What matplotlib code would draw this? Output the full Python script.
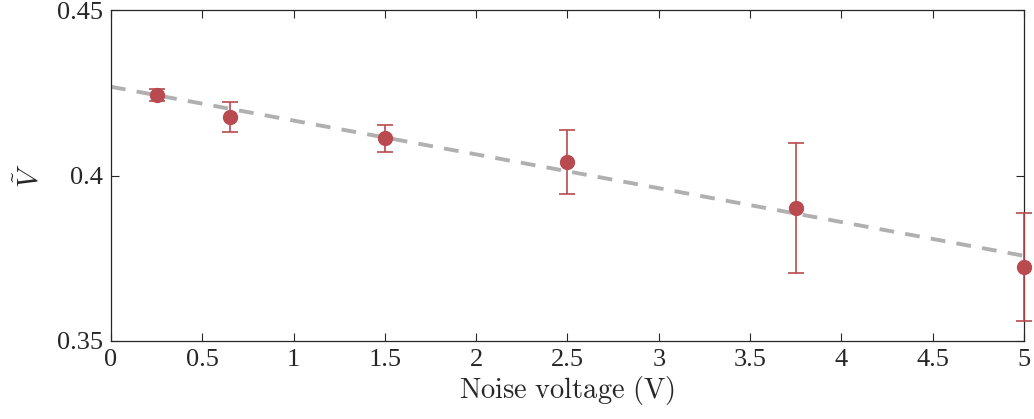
import numpy as np
import matplotlib.pyplot as plt

# measured visibility vs applied noise voltage
noise_v = [0.25, 0.65, 1.5, 2.5, 3.75, 5.0]
vis = [0.4244, 0.4178, 0.4113, 0.4040, 0.3903, 0.3724]
vis_err = [0.0018, 0.0045, 0.0041, 0.0097, 0.0197, 0.0164]

# linear fit
fit_x = [0, 5]
fit_y = [0.4269, 0.3757]

plt.rcParams['font.family'] = ['Liberation Serif', 'DejaVu Serif']
plt.rcParams['mathtext.fontset'] = 'cm'

fig = plt.figure(figsize=(10.34, 4.19), dpi=100)
ax = fig.add_axes([0.1073, 0.1869, 0.8830, 0.7881])

ax.plot(fit_x, fit_y, color='#b0b0b0', lw=2.8, linestyle=(0, (3.8, 2.9)), zorder=1)
ax.errorbar(noise_v, vis, yerr=vis_err, fmt='o', color='#b94a4f', ms=10,
            elinewidth=1.2, capsize=5.8, capthick=1.2, clip_on=False, zorder=3)

ax.set_xlim(0, 5)
ax.set_ylim(0.35, 0.45)
ax.set_xticks(np.arange(0, 5.01, 0.5))
ax.set_xticklabels(['0', '0.5', '1', '1.5', '2', '2.5', '3', '3.5', '4', '4.5', '5'])
ax.set_yticks([0.35, 0.4, 0.45])
ax.set_yticklabels(['0.35', '0.4', '0.45'])
ax.tick_params(direction='in', length=6, width=0.8, labelsize=19, colors='#262626',
               top=True, right=True, pad=6)
for s in ax.spines.values():
    s.set_color('#262626')
    s.set_linewidth(0.9)

ax.set_xlabel(r'$\mathrm{Noise\ voltage\ (V)}$', fontsize=20.5, color='#262626', labelpad=2)
ax.set_ylabel(r'$\tilde{V}$', fontsize=21, color='#262626', labelpad=9)

fig.savefig('out.png', dpi=100)
